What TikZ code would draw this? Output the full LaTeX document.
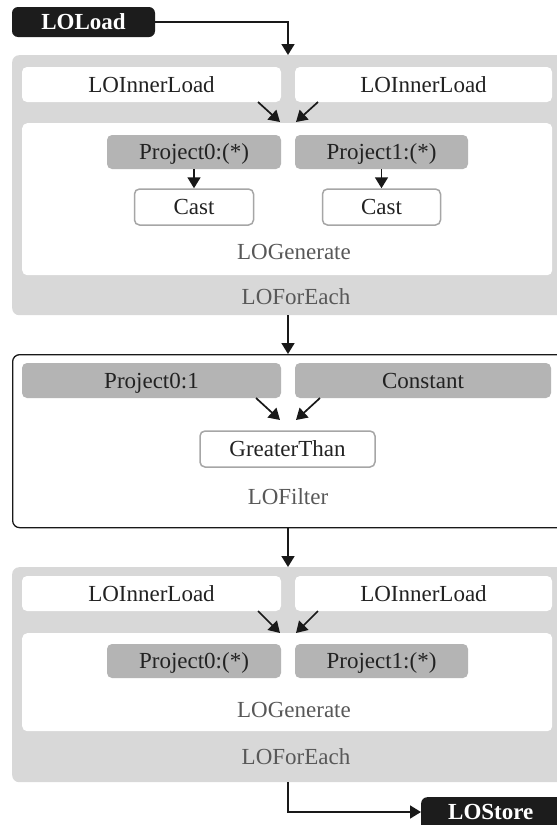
\documentclass[tikz,border=0pt]{standalone}
\usepackage{fontspec}
\setmainfont{LiberationSerif}[Extension=.ttf, UprightFont=*-Regular, BoldFont=*-Bold]
\usetikzlibrary{arrows.meta}
\definecolor{outergray}{HTML}{D8D8D8}
\definecolor{projgray}{HTML}{B4B4B4}
\definecolor{castborder}{HTML}{A6A6A6}
\definecolor{labelgray}{HTML}{585858}
\definecolor{blackbox}{HTML}{1C1C1C}
\definecolor{textblack}{HTML}{222222}
\begin{document}
\begin{tikzpicture}[x=1pt,y=-1pt,
  every node/.style={font=\rmfamily\fontsize{23}{27}\selectfont, text=textblack, inner sep=0pt,
    text height=15pt, text depth=0pt},
  container/.style={rounded corners=7pt, fill=outergray},
  filterbox/.style={rounded corners=7pt, fill=white, draw=black!90, line width=1.3pt},
  innerbox/.style={rounded corners=5pt, fill=white},
  projbox/.style={rounded corners=5pt, fill=projgray},
  exprbox/.style={rounded corners=5pt, fill=white, draw=castborder, line width=1.5pt},
  termbox/.style={rounded corners=6pt, fill=blackbox, text=white, font=\rmfamily\fontsize{23}{27}\selectfont\bfseries},
  lbl/.style={text=labelgray},
  conn/.style={line width=1.7pt, draw=black!90, -{Triangle[width=13pt,length=11pt]}}
]
\useasboundingbox (0,0) rectangle (557,825);
\fill[white] (0,0) rectangle (557,825);
\clip (0,0) rectangle (557,825);

\coordinate (spine) at (288,0);

% LOLoad
\node[termbox, minimum width=143pt, minimum height=30pt] (load) at (83.5,22) {LOLoad};

% ForEach 1
\node[container, minimum width=578pt, minimum height=260pt, anchor=north west] (fe1) at (12,55) {};
\node[innerbox, minimum width=259pt, minimum height=35pt] (il1) at (151.5,84.5) {LOInnerLoad};
\node[innerbox, minimum width=257pt, minimum height=35pt] (il2) at (423.5,84.5) {LOInnerLoad};
\node[innerbox, minimum width=530pt, minimum height=152pt, anchor=north west] (gen1) at (22,123) {};
\node[projbox, minimum width=174pt, minimum height=34pt] (p0) at (194,152) {Project0:(*)};
\node[projbox, minimum width=173pt, minimum height=34pt] (p1) at (381.5,152) {Project1:(*)};
\node[exprbox, minimum width=119pt, minimum height=36pt] (c0) at (194,207) {Cast};
\node[exprbox, minimum width=118pt, minimum height=36pt] (c1) at (381.5,207) {Cast};
\node[lbl] (gen1l) at (294,252) {LOGenerate};
\node[lbl] (fe1l) at (296,297) {LOForEach};

% Filter
\node[filterbox, minimum width=578pt, minimum height=173pt, anchor=north west] (fil) at (12,354) {};
\node[projbox, minimum width=259pt, minimum height=35pt] (pf0) at (151.5,380.5) {Project0:1};
\node[projbox, minimum width=256pt, minimum height=35pt] (pf1) at (423,380.5) {Constant};
\node[exprbox, minimum width=175pt, minimum height=36pt] (gt) at (287.5,449) {GreaterThan};
\node[lbl] (fill) at (288,497) {LOFilter};

% ForEach 2
\node[container, minimum width=578pt, minimum height=215pt, anchor=north west] (fe2) at (12,567) {};
\node[innerbox, minimum width=259pt, minimum height=35pt] (il3) at (151.5,593.5) {LOInnerLoad};
\node[innerbox, minimum width=257pt, minimum height=35pt] (il4) at (423.5,593.5) {LOInnerLoad};
\node[innerbox, minimum width=530pt, minimum height=98pt, anchor=north west] (gen2) at (22,633) {};
\node[projbox, minimum width=174pt, minimum height=34pt] (p2) at (194,661) {Project0:(*)};
\node[projbox, minimum width=173pt, minimum height=34pt] (p3) at (381.5,661) {Project1:(*)};
\node[lbl] (gen2l) at (294,710) {LOGenerate};
\node[lbl] (fe2l) at (296,757) {LOForEach};

% LOStore
\node[termbox, minimum width=180pt, minimum height=50pt, anchor=north west] (store) at (421,797) {};
\node[text=white, font=\rmfamily\fontsize{23}{27}\selectfont\bfseries, anchor=west] (storel) at (448,811.5) {LOStore};

% connectors
\draw[conn] (load.east) -| (fe1.north -| spine);
\coordinate (a1s) at (258,102); \coordinate (a1e) at (280,122);
\coordinate (a2s) at (318,102); \coordinate (a2e) at (296,122);
\draw[conn] (a1s) -- (a1e);
\draw[conn] (a2s) -- (a2e);
\draw[conn] (p0.south) -- (c0.north);
\draw[conn] (p1.south) -- (c1.north);
\draw[conn] (fe1.south -| spine) -- (fil.north -| spine);
\coordinate (a3s) at (256,398); \coordinate (a3e) at (280,420);
\coordinate (a4s) at (320,398); \coordinate (a4e) at (296,420);
\draw[conn] (a3s) -- (a3e);
\draw[conn] (a4s) -- (a4e);
\draw[conn] (fil.south -| spine) -- (fe2.north -| spine);
\coordinate (a5s) at (258,611); \coordinate (a5e) at (280,633);
\coordinate (a6s) at (318,611); \coordinate (a6e) at (296,633);
\draw[conn] (a5s) -- (a5e);
\draw[conn] (a6s) -- (a6e);
\coordinate (bend) at (288,812);
\draw[conn] (fe2.south -| spine) -- (bend) -- (bend -| store.west);
\end{tikzpicture}
\end{document}
